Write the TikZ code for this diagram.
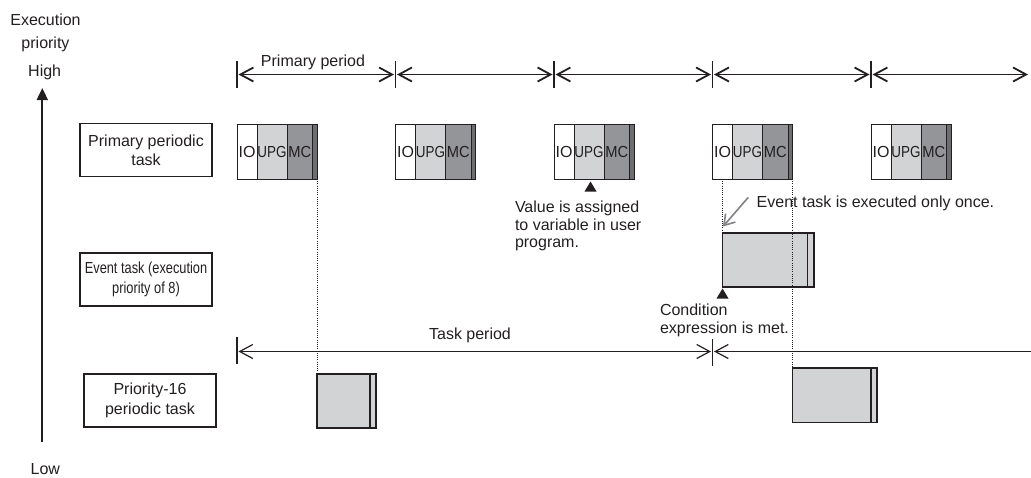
\documentclass[tikz,border=0pt]{standalone}
\usepackage{fontspec}
\setmainfont{Liberation Sans}
\usepackage{graphicx}
\usetikzlibrary{arrows.meta,calc}
\definecolor{ink}{HTML}{231F20}
\definecolor{lightg}{HTML}{D1D3D4}
\definecolor{darkg}{HTML}{939598}
\definecolor{stripg}{HTML}{6D6E71}
\definecolor{arrowg}{HTML}{808285}
\begin{document}
\begin{tikzpicture}[x=1pt,y=-1pt,
  every node/.style={font=\fontsize{16}{19}\selectfont, text=ink, inner sep=0pt, outer sep=0pt},
  labbox/.style={draw=ink, line width=1.1pt, align=center, minimum width=132pt, minimum height=53pt},
  seg/.style={draw=ink, line width=0.9pt, minimum height=55pt, anchor=north west},
  runbox/.style={draw=ink, line width=1.1pt, fill=lightg, anchor=north west},
  tick/.style={draw=ink, line width=1.3pt},
  barbtip/.tip={Straight Barb[length=13pt,width=14pt]},
  perarrow/.style={draw=ink, line width=1.8pt, barbtip-barbtip},
  taskarrow/.style={draw=ink, line width=1.2pt},
  dotline/.style={draw=ink, line width=0.8pt, dash pattern=on 1pt off 1.2pt},
  txt/.style={anchor=base west},
  ctxt/.style={anchor=base},
]
\useasboundingbox (0,0) rectangle (1031,477);

% priority axis
\node[ctxt] (lexec) at (45.5,25) {Execution};
\node[ctxt] (lprio) at (45.5,48) {priority};
\node[ctxt] (lhigh) at (44.7,76) {High};
\node[ctxt] (llow) at (45.3,474) {Low};
\coordinate (axbot) at (42.3,442);
\coordinate (axtop) at (42.3,88);
\draw[draw=ink, line width=1.8pt, -{Triangle[length=12pt,width=11pt]}] (axbot) -- (axtop);

% row labels
\node[labbox] (lblprim) at (146,150) {Primary periodic\\task};
\node[labbox, font=\fontsize{16}{20.5}\selectfont] (lblevent) at (146,279.5)
  {\scalebox{0.8}[1]{Event task (execution}\\\scalebox{0.8}[1]{priority of 8)}};
\node[labbox, font=\fontsize{16}{20}\selectfont] (lblp16) at (150,400.5) {Priority-16\\periodic task};

% primary period ticks and blocks
\foreach \i in {0,...,4} {
  \pgfmathsetmacro\X{237+158.5*\i}
  \coordinate (p\i) at (\X,74.5);
  \draw[tick] (\X,61) -- (\X,88);
  \node[seg, fill=white, minimum width=20pt] (io\i) at (\X,124) {IO};
  \node[seg, fill=lightg, minimum width=30pt] (upg\i) at (io\i.north east) {\scalebox{0.84}[1]{UPG}};
  \node[seg, fill=darkg, minimum width=25.5pt] (mc\i) at (upg\i.north east) {\scalebox{0.92}[1]{MC}};
  \node[seg, fill=stripg, minimum width=4.5pt] (st\i) at (mc\i.north east) {};
}
\coordinate (pend) at (1028,74.5);
\foreach \a/\b in {p0/p1,p1/p2,p2/p3,p3/p4} {
  \draw[perarrow] ([xshift=1.5pt]\a) -- ([xshift=-1.5pt]\b);
}
\draw[perarrow] ([xshift=1.5pt]p4) -- (pend);
\node[anchor=base] (lprimper) at (313,66.7) {Primary period};

% value assigned marker
\fill[ink] ($(upg2.south)+(1.5,2.5)$) -- ++(6,10) -- ++(-12,0) -- cycle;
\node[txt] (val1) at (515,212.5) {Value is assigned};
\node[txt] (val2) at (515,230) {to variable in user};
\node[txt] (val3) at (515,247.5) {program.};

% event task block
\node[runbox, minimum width=85pt, minimum height=54pt] (ev) at (722.5,233) {};
\node[runbox, minimum width=6.5pt, minimum height=54pt] (evs) at (ev.north east) {};
\draw[dotline] (io3.south) -- (ev.north west);
\fill[ink] ($(ev.south west)+(0,1.5)$) -- ++(6,10) -- ++(-12,0) -- cycle;
\node[txt] (cond1) at (660,315) {Condition};
\node[txt] (cond2) at (660,333.3) {expression is met.};

\node[txt] (evonce) at (756.7,207) {Event task is executed only once.};
\coordinate (gs) at (748.3,197.3);
\coordinate (ge) at (723,226.5);
\draw[draw=arrowg, line width=1.6pt, -{Straight Barb[length=10pt,width=13pt]}] (gs) -- (ge);

% priority-16 blocks
\node[runbox, minimum width=53pt, minimum height=54pt] (pa) at (317,374) {};
\node[runbox, minimum width=6pt, minimum height=54pt] (pas) at (pa.north east) {};
\node[runbox, minimum width=78.5pt, minimum height=54.5pt] (pb) at (792.5,368) {};
\node[runbox, minimum width=6pt, minimum height=54.5pt] (pbs) at (pb.north east) {};
\draw[dotline] (st0.south east) -- (pa.north west);
\draw[dotline] (st3.south east) -- (pb.north west);

% task period
\coordinate (tpL) at (237,351.5);
\coordinate (tpM) at (712.5,351.5);
\coordinate (tpR) at (1031,351.5);
\draw[tick, line width=1.1pt] (237,337) -- (237,364);
\draw[tick, line width=1.1pt] (712.5,339) -- (712.5,366);
\draw[taskarrow, barbtip-barbtip] ([xshift=1.5pt]tpL) -- ([xshift=-1.5pt]tpM);
\draw[taskarrow, barbtip-] ([xshift=1.5pt]tpM) -- (tpR);
\node[anchor=base] (ltaskper) at (470,339) {Task period};
\end{tikzpicture}
\end{document}
